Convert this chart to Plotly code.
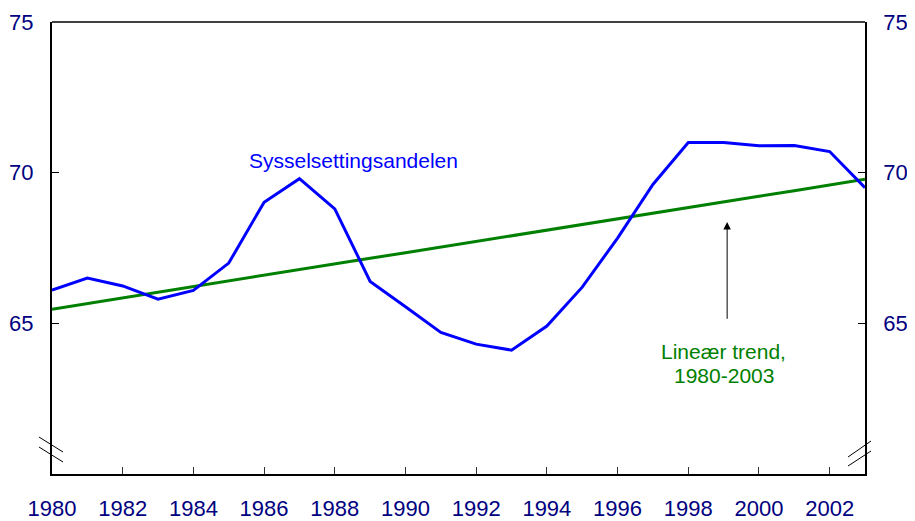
import plotly.graph_objects as go

years = list(range(1980, 2004))
sysselsetting = [66.1, 66.5, 66.24, 65.8, 66.09, 67.0, 69.02, 69.8, 68.8, 66.39,
                 65.55, 64.7, 64.31, 64.11, 64.91, 66.2, 67.83, 69.61, 71.0, 71.0,
                 70.89, 70.9, 70.7, 69.5]
trend = [65.47, 65.66, 65.84, 66.03, 66.22, 66.41, 66.59, 66.78, 66.97, 67.16,
         67.34, 67.53, 67.72, 67.91, 68.09, 68.28, 68.47, 68.65, 68.84, 69.03,
         69.22, 69.40, 69.59, 69.78]
y_ticks = [65, 70, 75]
x_ticks = list(range(1980, 2004, 2))

FONT = "Liberation Sans, Arial, sans-serif"
NAVY = "#000080"

fig = go.Figure()
fig.add_trace(go.Scatter(x=years, y=trend, mode="lines",
                         line=dict(color="#008000", width=3), showlegend=False))
fig.add_trace(go.Scatter(x=years, y=sysselsetting, mode="lines",
                         line=dict(color="#0000FF", width=3), showlegend=False))
# invisible trace to activate right axis
fig.add_trace(go.Scatter(x=years, y=trend, mode="lines", yaxis="y2",
                         line=dict(color="rgba(0,0,0,0)", width=0),
                         showlegend=False, hoverinfo="skip"))

fig.update_layout(
    width=907, height=513,
    margin=dict(l=44, r=50, t=14, b=47),
    plot_bgcolor="white", paper_bgcolor="white",
    font=dict(family=FONT, size=22, color=NAVY),
    xaxis=dict(range=[1980, 2003], tickvals=x_ticks, ticktext=[str(v) for v in x_ticks],
               ticks="inside", ticklen=7, tickwidth=1, tickcolor="#333333",
               showline=True, linecolor="black", linewidth=2,
               showgrid=False, zeroline=False, automargin=False,
               tickfont=dict(size=22, color=NAVY), ticklabelstandoff=14),
    yaxis=dict(range=[60, 75], tickvals=y_ticks,
               ticks="inside", ticklen=7, tickwidth=1, tickcolor="black",
               showline=True, linecolor="black", linewidth=2,
               showgrid=False, zeroline=False, automargin=False,
               tickfont=dict(size=22, color=NAVY), ticklabelstandoff=12),
    yaxis2=dict(range=[60, 75], tickvals=y_ticks, overlaying="y", side="right",
                ticks="inside", ticklen=7, tickwidth=1, tickcolor="black",
                showline=True, linecolor="black", linewidth=1.5,
                showgrid=False, zeroline=False, automargin=False,
                tickfont=dict(size=22, color=NAVY), ticklabelstandoff=12),
)

# top frame line
fig.add_shape(type="line", xref="paper", yref="paper", x0=0, x1=1, y0=1, y1=1,
              line=dict(color="black", width=1.3))

# axis break marks
for y0, y1 in [(37, 22), (27, 12)]:
    fig.add_shape(type="line", xref="paper", xsizemode="pixel", xanchor=0,
                  x0=-13, x1=11, yref="y", ysizemode="pixel", yanchor=60,
                  y0=y0, y1=y1, line=dict(color="black", width=1))
for y0, y1 in [(17, 33), (8, 23)]:
    fig.add_shape(type="line", xref="paper", xsizemode="pixel", xanchor=1,
                  x0=-17, x1=6, yref="y", ysizemode="pixel", yanchor=60,
                  y0=y0, y1=y1, line=dict(color="black", width=1))

fig.add_annotation(x=1988.52, y=70.42, text="Sysselsettingsandelen", showarrow=False,
                   font=dict(family=FONT, size=21, color="#0000FF"))
fig.add_annotation(x=1999.0, y=64.06, text="Lineær trend,", showarrow=False,
                   font=dict(family=FONT, size=21, color="#008000"))
fig.add_annotation(x=1999.0, y=63.26, text="1980-2003", showarrow=False,
                   font=dict(family=FONT, size=21, color="#008000"))
fig.add_annotation(x=1999.1, y=68.36, ax=1999.1, ay=65.1, axref="x", ayref="y",
                   text="", showarrow=True, arrowhead=2, arrowsize=1.5,
                   arrowwidth=1, arrowcolor="black")

fig.write_html("out.html")
